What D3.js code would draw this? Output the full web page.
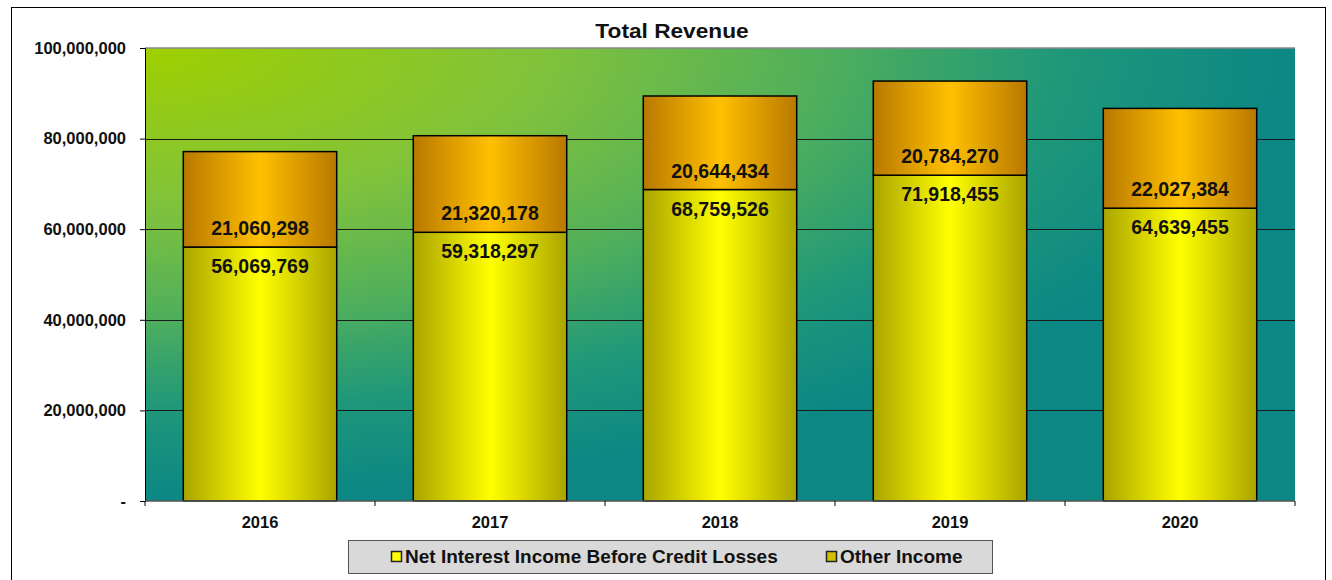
<!DOCTYPE html>
<html><head><meta charset="utf-8">
<script src="https://cdn.jsdelivr.net/npm/d3@7"></script>
<style>body{margin:0;background:#fff;}svg{display:block;font-family:Arial,"Liberation Sans",sans-serif;}</style>
</head><body><svg id="c" width="1332" height="580"></svg>
<script>
const years = ["2016","2017","2018","2019","2020"];
const netInterest = [56069769, 59318297, 68759526, 71918455, 64639455];
const otherIncome = [21060298, 21320178, 20644434, 20784270, 22027384];
const yTicks = [0, 20000000, 40000000, 60000000, 80000000, 100000000];
const seriesNames = ["Net Interest Income Before Credit Losses", "Other Income"];
const title = "Total Revenue";

const svg = d3.select("#c");
const m = {l:145, r:1295, t:48, b:501};

const defs = svg.append("defs");
const bg = defs.append("radialGradient").attr("id","bg").attr("cx","0").attr("cy","0").attr("fx","0").attr("fy","0").attr("r","1.0");
bg.append("stop").attr("offset","0").attr("stop-color","#9fd000");
bg.append("stop").attr("offset","0.35").attr("stop-color","#80c23c");
bg.append("stop").attr("offset","0.58").attr("stop-color","#52b05a");
bg.append("stop").attr("offset","0.8").attr("stop-color","#1e977a");
bg.append("stop").attr("offset","1").attr("stop-color","#0c8784");

function hgrad(id, edge, mid){
  const g = defs.append("linearGradient").attr("id",id).attr("x1","0").attr("x2","1").attr("y1","0").attr("y2","0");
  g.append("stop").attr("offset","0").attr("stop-color",edge);
  g.append("stop").attr("offset","0.5").attr("stop-color",mid);
  g.append("stop").attr("offset","1").attr("stop-color",edge);
}
hgrad("gy","#aaa400","#ffff00");
hgrad("go","#b87800","#ffc000");

svg.append("rect").attr("x",11.5).attr("y",7.5).attr("width",1314).attr("height",590).attr("fill","#fff").attr("stroke","#000").attr("stroke-width",1);

const x = d3.scaleBand().domain(years).range([m.l, m.r]).paddingInner(0.333).paddingOuter(0.1665);
const y = d3.scaleLinear().domain([0,100000000]).range([m.b, m.t]);

svg.append("rect").attr("x",m.l).attr("y",m.t).attr("width",m.r-m.l).attr("height",m.b-m.t).attr("fill","url(#bg)");
svg.append("line").attr("x1",m.l).attr("x2",m.r).attr("y1",m.t).attr("y2",m.t).attr("stroke","#888").attr("stroke-width",1.5);

svg.append("g").selectAll("line").data(yTicks.slice(1,5)).join("line")
  .attr("x1",m.l).attr("x2",m.r).attr("y1",d=>Math.round(y(d))+0.5).attr("y2",d=>Math.round(y(d))+0.5)
  .attr("stroke","#1a1a1a").attr("stroke-width",1);

const gb = svg.append("g");
years.forEach((yr,i)=>{
  const x0 = x(yr), bw = x.bandwidth();
  gb.append("rect").attr("x",x0).attr("y",y(netInterest[i])).attr("width",bw).attr("height",y(0)-y(netInterest[i]))
    .attr("fill","url(#gy)").attr("stroke","#000").attr("stroke-width",1.5);
  const top = netInterest[i]+otherIncome[i];
  gb.append("rect").attr("x",x0).attr("y",y(top)).attr("width",bw).attr("height",y(netInterest[i])-y(top))
    .attr("fill","url(#go)").attr("stroke","#000").attr("stroke-width",1.5);
});

const fmt = d3.format(",");
const gl = svg.append("g").attr("font-weight","bold").attr("font-size",19.5).attr("fill","#111").attr("text-anchor","middle");
years.forEach((yr,i)=>{
  const cx = x(yr)+x.bandwidth()/2;
  const ys = y(netInterest[i]);
  gl.append("text").attr("x",cx).attr("y",ys-12).text(fmt(otherIncome[i]));
  gl.append("text").attr("x",cx).attr("y",ys+26).text(fmt(netInterest[i]));
});

const ya = svg.append("g").attr("transform",`translate(${m.l},0)`)
  .call(d3.axisLeft(y).tickValues(yTicks).tickSize(5).tickPadding(14).tickFormat(d=>d===0?"-":fmt(d)));
ya.select(".domain").attr("stroke","#000");
ya.selectAll("text").attr("font-size",16.5).attr("font-weight","bold").attr("fill","#111").attr("font-family","Arial,'Liberation Sans',sans-serif");
ya.selectAll(".tick line").attr("stroke","#000");

const xa = svg.append("g").attr("transform",`translate(0,${m.b})`);
xa.append("line").attr("x1",m.l).attr("x2",m.r).attr("y1",0).attr("y2",0).attr("stroke","#555").attr("stroke-width",1.5);
const step = (m.r-m.l)/years.length;
xa.selectAll("line.t").data(d3.range(years.length+1)).join("line").attr("class","t")
  .attr("x1",d=>m.l+d*step).attr("x2",d=>m.l+d*step).attr("y1",0).attr("y2",5).attr("stroke","#000");
xa.selectAll("text").data(years).join("text")
  .attr("x",d=>x(d)+x.bandwidth()/2).attr("y",27).attr("text-anchor","middle")
  .attr("font-size",16.5).attr("font-weight","bold").attr("fill","#111").text(d=>d);

svg.append("text").attr("transform","translate(672,38) scale(1.08,1)").attr("text-anchor","middle")
  .attr("font-size",21).attr("font-weight","bold").attr("fill","#111").text(title);

const lg = svg.append("g");
lg.append("rect").attr("x",348.5).attr("y",540.5).attr("width",644).attr("height",33).attr("fill","#d9d9d9").attr("stroke","#555").attr("stroke-width",1);
const legColors = ["#ffff00","#d4c000"];
const legX = [405, 840];
seriesNames.forEach((n,i)=>{
  lg.append("rect").attr("x",legX[i]-13.5).attr("y",551.5).attr("width",10).attr("height",10).attr("fill",legColors[i]).attr("stroke","#222").attr("stroke-width",1.5);
  lg.append("text").attr("x",legX[i]).attr("y",563).attr("font-size",19).attr("font-weight","bold").attr("fill","#111").text(n);
});
</script></body></html>
